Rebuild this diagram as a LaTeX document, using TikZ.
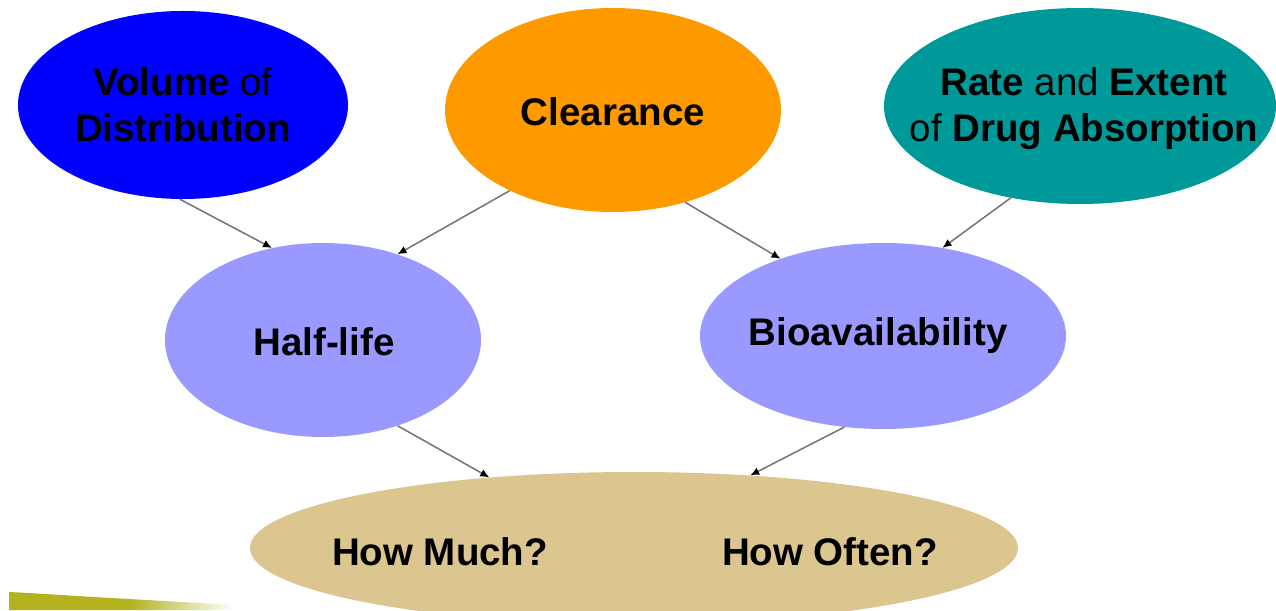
\documentclass[tikz,border=0pt]{standalone}
\usepackage{fontspec}
\setmainfont{Liberation Sans}
\usetikzlibrary{shapes.geometric,arrows.meta}

\definecolor{volblue}{RGB}{0,0,255}
\definecolor{clrorange}{RGB}{255,153,0}
\definecolor{rateteal}{RGB}{0,153,153}
\definecolor{lavender}{RGB}{153,153,255}
\definecolor{dosetan}{RGB}{218,198,142}
\definecolor{swoosh}{RGB}{181,178,32}
\definecolor{linkgray}{RGB}{115,115,115}

\begin{document}
\begin{tikzpicture}[x=1pt,y=1pt,
  bubble/.style={ellipse,inner sep=0pt},
  label/.style={font=\fontsize{38.5}{46}\selectfont\bfseries,align=center},
  link/.style={draw=linkgray,line width=1.5pt,-{Latex[length=9pt,width=8pt,color=black]}}]
\useasboundingbox (0,0) rectangle (1276,610);

% swoosh in the lower left corner
\fill[swoosh] (9,0) -- (9,18) .. controls (50,16) and (90,13) .. (130,11) -- (130,0) -- cycle;
\shade[left color=swoosh,right color=white]
  (129,0) -- (129,11) .. controls (165,9) and (200,7) .. (235,5) -- (235,0) -- cycle;

% top row
\node[bubble,fill=volblue,minimum width=330,minimum height=188] (vol) at (183,505) {};
\node[label] (voltxt) at (vol) {Volume \textmd{of}\\Distribution};
\node[bubble,fill=clrorange,minimum width=336,minimum height=204] (clr) at (613,500) {};
\node[label] (clrtxt) at (613,498) {Clearance};
\node[bubble,fill=rateteal,minimum width=392,minimum height=196] (rate) at (1080,504) {};
\node[label] (ratetxt) at (1084,501) {Rate \textmd{and} Extent\\\textmd{of} Drug Absorption};

% middle row
\node[bubble,fill=lavender,minimum width=316,minimum height=194] (half) at (323,270) {};
\node[label] (halftxt) at (324,268) {Half-life};
\node[bubble,fill=lavender,minimum width=366,minimum height=186] (bio) at (883,274) {};
\node[label] (biotxt) at (878,274) {Bioavailability};

% bottom: dosing
\node[bubble,fill=dosetan,minimum width=768,minimum height=152] (dose) at (634,62) {};
\node[label] (much) at (440,58) {How Much?};
\node[label] (often) at (830,58) {How Often?};

% links
\draw[link] (vol.268) -- (half.119);
\draw[link] (clr.218) -- (half.49);
\draw[link] (clr.308) -- (bio.143);
\draw[link] (rate.233) -- (bio.56);
\draw[link] (half.311) -- (dose.154);
\draw[link] (bio.247) -- (dose.32);

\end{tikzpicture}
\end{document}
